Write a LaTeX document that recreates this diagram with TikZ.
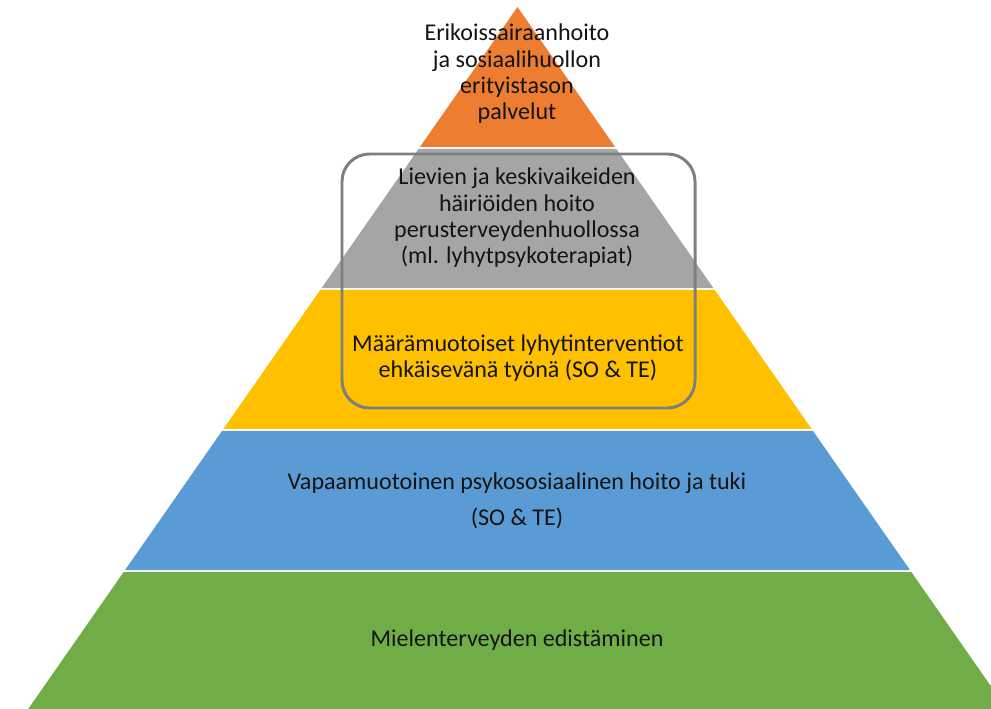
\documentclass[tikz,border=0pt]{standalone}
\usepackage{fontspec}
\setmainfont{Carlito}
\usetikzlibrary{calc}
\definecolor{tasoOrange}{HTML}{ED7D31}
\definecolor{tasoGray}{HTML}{A5A5A5}
\definecolor{tasoYellow}{HTML}{FFC000}
\definecolor{tasoBlue}{HTML}{5B9BD5}
\definecolor{tasoGreen}{HTML}{70AD47}
\definecolor{boxGray}{HTML}{7F7F7F}
% one band of the pyramid: colour, top y, bottom y (px, apex at y=7)
\def\band[#1](#2:#3){\fill[#1] ({517.5-(#2-7)*0.697}, #2) -- ({517.5+(#2-7)*0.697}, #2) -- ({517.5+(#3-7)*0.697}, #3) -- ({517.5-(#3-7)*0.697}, #3) -- cycle;}
\tikzset{
  tasotext/.style={align=center, text=black!92, font=\fontsize{13.7}{15}\selectfont, inner sep=0pt}
}

\begin{document}
\begin{tikzpicture}[x=0.02cm, y=-0.02cm]
		%%%%% START %%%%%
		\useasboundingbox (0, 0) rectangle (991, 709);
		\clip (0, 0) rectangle (991, 709);
		
		\band[tasoOrange](7:147)
		\band[tasoGray](149:288)
		\band[tasoYellow](290:429)
		\band[tasoBlue](431:570)
		\band[tasoGreen](572:730)
		
		\node[tasotext] (erikois) at (517, 74) {Erikoissairaanhoito\\ja sosiaalihuollon\\erityistason\\palvelut};
		\node[tasotext] (lievat) at (517, 218) {Lievien ja keskivaikeiden\\häiriöiden hoito\\perusterveydenhuollossa\\(ml. lyhytpsykoterapiat)};
		\node[tasotext] (maara) at (518, 358) {Määrämuotoiset lyhytinterventiot\\ehkäisevänä työnä (SO \& TE)};
		\node[tasotext] (vapaa) at (517, 483) {Vapaamuotoinen psykososiaalinen hoito ja tuki};
		\node[tasotext] (vapaaso) at (517, 518) {(SO \& TE)};
		\node[tasotext] (edist) at (517, 640) {Mielenterveyden edistäminen};
		
		\draw[line width=1.7pt, color=boxGray, rounded corners=0.55cm] (342, 154) rectangle (695, 408);
		
		%%%%% END %%%%%
\end{tikzpicture}
\end{document}
